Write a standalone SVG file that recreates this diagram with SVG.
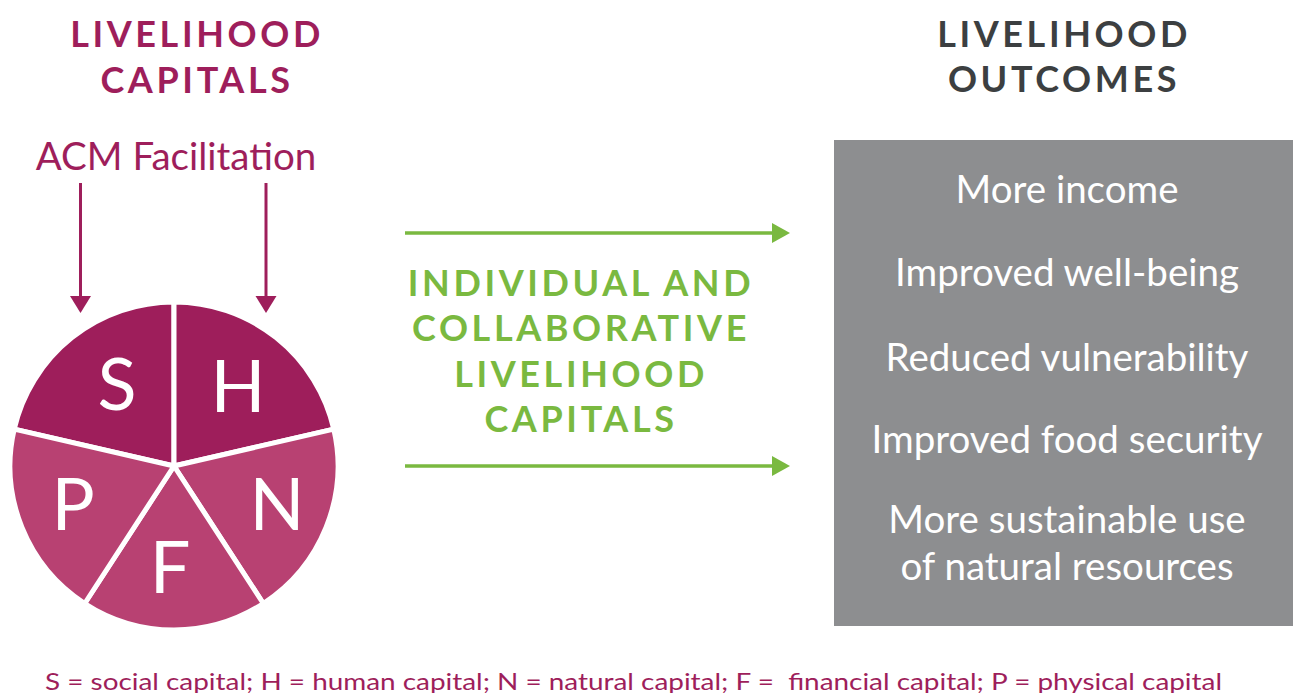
<svg xmlns="http://www.w3.org/2000/svg" width="1293" height="693" viewBox="0 0 1293 693">
<style>
.title{font-family:Lato,"Noto Sans",sans-serif;font-weight:700;font-size:36px;letter-spacing:3.6px;text-anchor:middle}
.mag{fill:#9E1E5B}
.green{fill:#7AB940}
.dark{fill:#3C3F41}
.reg{font-family:Lato,"Noto Sans",sans-serif;font-weight:400}
.out{font-family:Lato,"Noto Sans",sans-serif;font-size:38.5px;fill:#FFFFFF;text-anchor:middle}
.letter{font-family:Lato,"Noto Sans",sans-serif;font-size:72px;fill:#FFFFFF;text-anchor:middle}
.w1{fill:#9E1E5B;stroke:#FFFFFF;stroke-width:5;stroke-linejoin:round}
.w2{fill:#B84172;stroke:#FFFFFF;stroke-width:5;stroke-linejoin:round}
.mline{stroke:#9E1E5B;stroke-width:3;fill:none}
.gline{stroke:#7AB940;stroke-width:3.5;fill:none}
</style>
<rect width="1293" height="693" fill="#FFFFFF"/>
<g id="left-title">
<text class="title mag" x="197" y="47">LIVELIHOOD</text>
<text class="title mag" x="197" y="93">CAPITALS</text>
</g>
<g id="acm-facilitation">
<text class="reg mag" x="176" y="170" font-size="38.5" text-anchor="middle">ACM Facilitation</text>
</g>
<g id="pie">
<path class="w1" d="M174,466 L14.2,429.1 A164,164 0 0 1 174,302 Z"/>
<path class="w1" d="M174,466 L174,302 A164,164 0 0 1 333.8,429.1 Z"/>
<path class="w2" d="M174,466 L333.8,429.1 A164,164 0 0 1 263.3,603.5 Z"/>
<path class="w2" d="M174,466 L263.3,603.5 A164,164 0 0 1 84.7,603.5 Z"/>
<path class="w2" d="M174,466 L84.7,603.5 A164,164 0 0 1 14.2,429.1 Z"/>
<text class="letter" x="117" y="410">S</text>
<text class="letter" x="238" y="412">H</text>
<text class="letter" x="277" y="530">N</text>
<text class="letter" x="170" y="593">F</text>
<text class="letter" x="73" y="530">P</text>
</g>
<g id="middle-label">
<text class="title green" x="581" y="296">INDIVIDUAL AND</text>
<text class="title green" x="581" y="341">COLLABORATIVE</text>
<text class="title green" x="581" y="387">LIVELIHOOD</text>
<text class="title green" x="581" y="432">CAPITALS</text>
</g>
<g id="right-title">
<text class="title dark" x="1064" y="47">LIVELIHOOD</text>
<text class="title dark" x="1064" y="92">OUTCOMES</text>
</g>
<g id="outcomes">
<rect x="834" y="140" width="459" height="486" fill="#8D8E90"/>
<text class="out" x="1067" y="203">More income</text>
<text class="out" x="1067" y="286">Improved well-being</text>
<text class="out" x="1067" y="371">Reduced vulnerability</text>
<text class="out" x="1067" y="453">Improved food security</text>
<text class="out" x="1067" y="533">More sustainable use</text>
<text class="out" x="1067" y="580">of natural resources</text>
</g>
<g id="connectors">
<line class="mline" x1="80.5" y1="183" x2="80.5" y2="298"/>
<polygon class="mag" points="70,296 91,296 80.5,313"/>
<line class="mline" x1="266" y1="183" x2="266" y2="298"/>
<polygon class="mag" points="255.5,296 276.5,296 266,313"/>
<line class="gline" x1="405" y1="233" x2="775" y2="233"/>
<polygon class="green" points="772,223 790,233 772,243"/>
<line class="gline" x1="405" y1="466" x2="775" y2="466"/>
<polygon class="green" points="772,456 790,466 772,476"/>
</g>
<g id="legend">
<text class="reg mag" x="45" y="690" font-size="24" textLength="1177" lengthAdjust="spacingAndGlyphs">S = social capital; H = human capital; N = natural capital; F = &#160;financial capital; P = physical capital</text>
</g>
</svg>
